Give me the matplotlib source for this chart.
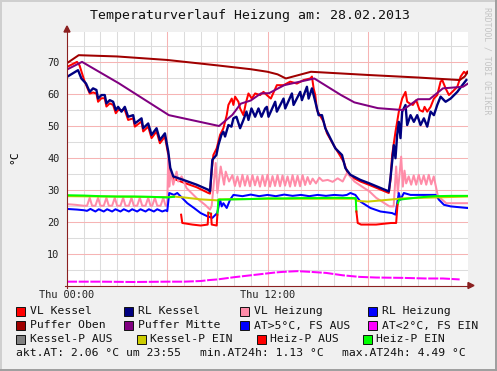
import matplotlib
matplotlib.use('Agg')
import matplotlib.pyplot as plt
from matplotlib.patches import Rectangle, Polygon
from matplotlib.lines import Line2D

nan = float('nan')

# ---------------- data (hours since Thu 00:00, degC) ----------------
puffer_oben_h = [0.0, 0.7, 3.0, 6.0, 9.0, 11.0, 12.0, 12.6, 13.1, 13.6, 14.6, 18.0, 21.0, 23.5, 23.8, 24.0]
puffer_oben_v = [69.7, 72.2, 71.8, 70.7, 69.0, 67.8, 67.0, 66.2, 64.9, 65.6, 67.0, 66.0, 65.2, 64.4, 65.5, 67.0]

puffer_mitte_h = [0.0, 0.9, 3.1, 6.1, 9.1, 9.9, 10.4, 11.0, 11.6, 12.1, 13.0, 14.8, 16.4, 17.2, 18.6, 20.1, 21.0, 21.7, 22.5, 23.7, 24.0]
puffer_mitte_v = [67.7, 70.1, 63.4, 53.4, 50.0, 53.5, 57.0, 58.0, 60.2, 60.3, 62.8, 64.9, 59.7, 57.4, 55.6, 55.0, 58.4, 58.4, 61.8, 62.3, 63.3]

vl_kessel_h = [0.00, 0.60, 0.75, 0.90, 1.06, 1.36, 1.56, 1.76, 1.86, 2.06, 2.26, 2.36, 2.56, 2.76, 2.92, 3.06,
               3.46, 3.66, 3.96, 4.06, 4.46, 4.56, 4.86, 5.06, 5.36, 5.56, 5.86, 6.06, 6.18, 6.36, 6.96, 7.76,
               8.46, 8.56, 8.66, 8.76, 8.96, 9.16, 9.36, 9.56, 9.66, 9.86, 9.96, 10.06, 10.26, 10.36, 10.56,
               10.70, 10.86, 11.06, 11.26, 11.56, 11.76, 12.00, 12.20, 12.56, 12.96, 13.36, 13.76, 14.16,
               14.56, 14.66, 14.76, 14.86, 14.96, 15.36, 15.56, 15.96, 16.56, 16.76, 16.96, 17.56, 18.06,
               19.26, 19.36, 19.46, 19.66, 19.76, 19.86, 19.96, 20.06, 20.26, 20.36, 20.50, 20.70, 20.90,
               21.10, 21.30, 21.40, 21.56, 21.76, 21.96, 22.16, 22.36, 22.46, 22.66, 22.86, 23.06, 23.36,
               23.56, 23.76, 23.86, 23.95]
vl_kessel_v = [68.5, 70.1, 69.0, 66.5, 63.9, 60.2, 60.5, 60.2, 57.6, 58.7, 58.7, 56.1, 57.1, 56.6, 54.0, 55.0,
               55.0, 51.9, 52.4, 49.8, 51.4, 48.3, 49.8, 46.2, 48.3, 44.6, 46.7, 41.0, 36.0, 33.5, 32.3, 30.8,
               29.0, 28.8, 36.0, 40.9, 43.0, 47.2, 49.3, 53.4, 56.6, 58.6, 56.6, 59.2, 57.6, 55.5, 53.4,
               57.1, 60.2, 58.6, 60.2, 59.7, 60.7, 59.5, 58.6, 62.8, 62.8, 63.9, 63.3, 64.4,
               64.9, 65.5, 61.8, 59.7, 55.0, 51.3, 47.7, 44.0, 38.8, 35.7, 34.2, 32.6, 31.6,
               29.0, 33.0, 40.9, 48.2, 51.3, 54.5, 56.6, 58.6, 60.7, 57.6, 57.1, 56.6, 58.1,
               55.0, 54.5, 56.0, 54.5, 56.0, 58.6, 59.7, 63.9, 64.4, 61.8, 59.7, 60.7, 62.3,
               65.5, 67.0, 66.5, 67.0]

rl_kessel_h = [0.00, 0.66, 0.86, 1.14, 1.36, 1.56, 1.76, 1.86, 2.06, 2.26, 2.36, 2.56, 2.76, 2.92, 3.06, 3.26,
               3.46, 3.66, 3.96, 4.06, 4.46, 4.56, 4.86, 5.06, 5.36, 5.56, 5.86, 6.06, 6.18, 6.36, 6.96, 7.76,
               8.46, 8.56, 8.70, 8.94, 9.06, 9.24, 9.36, 9.46, 9.66, 9.84, 9.96, 10.14, 10.36, 10.56, 10.74,
               10.86, 11.04, 11.26, 11.46, 11.64, 11.86, 11.96, 12.06, 12.46, 12.56, 12.96, 13.06, 13.46,
               13.56, 13.96, 14.06, 14.36, 14.46, 14.66, 14.76, 14.96, 15.06, 15.26, 15.46, 15.66, 16.06,
               16.46, 16.66, 16.96, 17.56, 18.06, 19.26, 19.36, 19.46, 19.56, 19.66, 19.76, 19.86, 19.96,
               20.06, 20.26, 20.36, 20.56, 20.76, 20.96, 21.16, 21.36, 21.56, 21.76, 21.96, 22.16, 22.36,
               22.56, 22.66, 22.96, 23.36, 23.66, 23.90]
rl_kessel_v = [65.4, 67.5, 64.9, 63.3, 60.7, 61.8, 61.3, 58.6, 59.7, 59.7, 57.1, 58.1, 57.6, 55.0, 56.0, 54.5,
               56.0, 52.9, 53.4, 50.8, 52.4, 49.3, 50.8, 47.2, 49.3, 45.6, 47.7, 42.0, 36.9, 34.2, 33.1, 31.6,
               30.0, 29.5, 39.4, 40.9, 44.0, 47.2, 48.2, 46.7, 50.3, 49.8, 52.4, 52.9, 49.3, 51.9, 54.5,
               51.9, 55.5, 52.9, 55.5, 52.9, 55.5, 56.0, 52.9, 57.6, 54.5, 58.6, 55.5, 60.2,
               56.6, 60.7, 58.1, 62.3, 58.6, 61.8, 59.7, 55.5, 53.4, 53.4, 49.3, 47.2, 43.0,
               40.9, 36.8, 34.7, 33.1, 32.1, 29.5, 33.7, 38.8, 44.0, 39.9, 47.2, 51.3, 46.2,
               54.5, 56.6, 50.3, 53.4, 51.3, 53.4, 50.3, 52.4, 49.8, 54.5, 53.4, 56.6, 59.2,
               58.1, 57.6, 58.6, 60.7, 62.8, 64.4]

vl_heizung_pts = [
    (0.0, 25.5), (0.5, 25.3), (1.0, 25.0), (1.2, 25.0), (1.36, 27.5), (1.5, 25.0), (1.7, 25.0), (1.86, 27.5),
    (2.0, 25.0), (2.2, 25.0), (2.36, 27.5), (2.5, 25.0), (2.7, 25.0), (2.86, 27.5), (3.0, 25.0), (3.2, 25.0),
    (3.36, 27.5), (3.5, 25.0), (3.7, 25.0), (3.86, 27.5), (4.0, 25.0), (4.2, 25.0), (4.36, 27.5), (4.5, 25.0),
    (4.7, 25.0), (4.86, 27.5), (5.0, 25.0), (5.1, 25.0), (5.26, 27.5), (5.4, 25.0), (5.6, 25.0), (5.76, 27.5),
    (5.9, 25.0), (6.0, 25.0), (6.06, 40.9), (6.12, 31.0), (6.2, 35.7), (6.36, 31.6), (6.56, 35.7), (6.66, 32.6),
    (6.86, 34.2), (7.16, 30.5), (7.76, 27.4), (8.26, 25.3), (8.56, 23.8), (8.66, 25.0), (8.9, 38.4), (9.0, 29.0),
    (9.2, 37.3), (9.4, 31.6), (9.5, 35.7), (9.7, 32.6), (9.9, 34.6), (10.05, 31.2), (10.2, 34.2), (10.35, 31.0),
    (10.5, 34.7), (10.65, 31.3), (10.8, 34.4), (10.95, 31.1), (11.1, 34.6), (11.25, 31.4), (11.4, 34.2),
    (11.55, 31.0), (11.7, 34.5), (11.85, 31.2), (12.0, 34.7), (12.15, 31.0), (12.3, 34.3), (12.45, 31.2),
    (12.6, 34.6), (12.75, 31.1), (12.9, 34.5), (13.05, 31.3), (13.2, 34.2), (13.35, 31.0), (13.5, 34.6),
    (13.65, 31.2), (13.8, 34.4), (13.95, 31.1), (14.1, 34.6), (14.25, 31.5), (14.4, 34.0), (14.55, 31.8),
    (14.7, 33.5), (14.9, 32.0), (15.1, 33.8), (15.3, 32.8), (15.6, 33.1), (15.9, 32.5), (16.2, 33.6),
    (16.5, 32.6), (16.75, 35.2), (16.95, 34.2), (17.2, 32.6), (17.8, 30.5), (18.1, 29.5), (18.5, 27.5),
    (19.0, 25.8), (19.3, 24.8), (19.55, 24.8), (19.7, 37.3), (19.8, 29.0), (20.0, 40.4), (20.1, 31.0),
    (20.2, 36.0), (20.3, 32.0), (20.45, 34.2), (20.6, 31.6), (20.75, 34.5), (20.9, 31.6), (21.05, 34.7),
    (21.2, 31.8), (21.35, 34.5), (21.5, 31.6), (21.65, 34.7), (21.8, 31.7), (21.95, 34.2), (22.2, 28.0),
    (22.7, 25.8), (23.0, 25.8), (23.95, 25.8)]
vl_heizung_h = [p[0] for p in vl_heizung_pts]
vl_heizung_v = [p[1] for p in vl_heizung_pts]

rl_heizung_h = [0.0, 0.6, 1.0, 1.2, 1.4, 1.7, 1.9, 2.2, 2.4, 2.7, 2.9, 3.2, 3.4, 3.7, 3.9, 4.2, 4.4, 4.7, 4.9,
                5.2, 5.4, 5.7, 5.9, 6.0, 6.12, 6.4, 6.6, 6.9, 7.2, 7.6, 8.0, 8.4, 8.7, 8.99, 9.16, 9.26,
                9.36, 9.56, 9.76, 9.96, 10.5, 11.0, 11.5, 12.0, 12.5, 13.0, 13.5, 14.0, 14.5, 15.0, 15.5,
                16.0, 16.5, 16.75, 16.96, 17.26, 17.56, 18.16, 18.76, 19.46, 19.66, 19.76, 19.86, 19.96,
                20.16, 20.56, 22.06, 22.26, 22.56, 22.96, 23.95]
rl_heizung_v = [24.0, 23.8, 23.6, 23.4, 24.0, 23.2, 23.9, 23.2, 23.9, 23.2, 23.9, 23.2, 23.9, 23.2, 23.9, 23.2,
                23.9, 23.2, 23.9, 23.2, 23.9, 23.2, 23.6, 23.3, 29.0, 28.4, 29.0, 27.4, 25.8, 24.3, 22.7,
                21.7, 21.2, 22.7, 26.9, 24.8, 25.8, 24.3, 26.9, 28.4, 28.0, 28.5, 28.0, 28.4, 28.0, 28.5,
                28.1, 28.4, 28.0, 28.4, 28.1, 28.4, 28.2, 28.4, 29.0, 28.4, 26.3, 24.3, 23.2, 22.7, 22.2,
                25.8, 29.0, 26.9, 29.0, 28.4, 28.4, 26.9, 25.3, 24.8, 24.3]

kessel_p_ein_h = [0.0, 6.0, 6.36, 7.0, 8.0, 9.0, 9.1, 12.0, 17.2, 17.4, 18.0, 19.7, 20.0, 24.0]
kessel_p_ein_v = [28.0, 27.7, 27.9, 27.6, 27.0, 26.7, 27.0, 27.2, 27.2, 26.5, 26.3, 27.1, 27.3, 27.9]

heiz_p_ein_h = [0.0, 1.0, 2.0, 3.0, 4.0, 5.0, 6.0, 6.4, nan, 8.46, 8.62, nan, 9.0, 9.06, 10.0, 11.0, 12.0,
                13.0, 14.0, 15.0, 16.0, 17.28, 17.32, nan, 19.78, 19.88, 21.0, 22.0, 23.0, 23.95]
heiz_p_ein_v = [28.3, 28.2, 28.0, 27.9, 27.9, 27.8, 27.6, 27.8, nan, 22.8, 22.5, nan, 22.2, 26.9, 27.0, 27.1,
                27.3, 27.3, 27.4, 27.4, 27.5, 27.4, 23.2, nan, 25.3, 26.9, 27.6, 28.0, 28.1, 28.1]

heiz_p_aus_h = [6.83, 6.9, 7.5, 8.0, 8.42, 8.46, nan, 8.62, 8.66, 8.96, 9.0, nan,
                17.32, 17.4, 17.6, 18.5, 19.4, 19.7, 19.78]
heiz_p_aus_v = [22.2, 19.6, 19.1, 18.8, 19.1, 22.8, nan, 22.5, 19.1, 18.8, 22.2, nan,
                23.2, 19.6, 19.1, 19.1, 19.6, 19.6, 25.3]

aussen_h = [0.0, 2.0, 4.0, 6.0, 7.0, 8.0, 8.5, 9.0, 10.0, 11.0, 11.5, 12.0, 12.5, 13.0, 13.8, 14.5, 15.5,
            16.5, 17.5, 18.5, 20.0, 21.5, 22.5, 23.5]
aussen_v = [1.2, 1.2, 1.1, 1.2, 1.2, 1.4, 1.7, 1.9, 2.6, 3.2, 3.5, 3.8, 4.1, 4.3, 4.5, 4.3, 3.95,
            3.2, 2.7, 2.5, 2.4, 2.2, 2.2, 1.9]

y_ticks = [10, 20, 30, 40, 50, 60, 70]
x_ticks = [0, 12]
x_tick_labels = ['Thu 00:00', 'Thu 12:00']

title = 'Temperaturverlauf Heizung am: 28.02.2013'
legend_rows = [
    [('VL Kessel', '#FF0000'), ('RL Kessel', '#000080'), ('VL Heizung', '#FF8CA8'), ('RL Heizung', '#0000FF')],
    [('Puffer Oben', '#A00000'), ('Puffer Mitte', '#800080'), ('AT>5°C, FS AUS', '#0000FF'), ('AT<2°C, FS EIN', '#FF00FF')],
    [('Kessel-P AUS', '#808080'), ('Kessel-P EIN', '#CCCC00'), ('Heiz-P AUS', '#FF0000'), ('Heiz-P EIN', '#00FF00')],
]
info_texts = ['akt.AT: 2.06 °C um 23:55', 'min.AT24h: 1.13 °C', 'max.AT24h: 4.49 °C']

# ---------------- layout ----------------
W, H = 497, 371
MONO = 'DejaVu Sans Mono'
fig = plt.figure(figsize=(W / 100, H / 100), dpi=100, facecolor='#F0F0F0')

def fx(x):
    return x / W

def fy(y):
    return 1 - y / H

L, R, T, B = 67, 468, 32, 285.5
PXU = 3.19
ax = fig.add_axes([fx(L), fy(B), (R - L) / W, (B - T) / H])
ax.set_facecolor('white')
ax.set_xlim(0, 24)
ax.set_ylim(0, (B - T) / PXU)
for s in ax.spines.values():
    s.set_visible(False)

# grid
for hh in range(1, 24):
    major = hh % 6 == 0
    ax.axvline(hh, color='#F6B4B4' if major else '#DCDCDC', lw=0.75, zorder=1 if major else 0.5)
for yy in range(5, 80, 5):
    major = yy % 10 == 0
    ax.axhline(yy, color='#F6B4B4' if major else '#DCDCDC', lw=0.75, zorder=1 if major else 0.5)

ax.set_yticks(y_ticks)
ax.set_yticklabels([str(v) for v in y_ticks], fontfamily=MONO, fontsize=7.4, color='#222222')
ax.set_xticks(x_ticks)
ax.set_xticklabels(x_tick_labels, fontfamily=MONO, fontsize=7.4, color='#222222')
ax.tick_params(axis='y', length=0, pad=5.5)
ax.tick_params(axis='x', length=0, pad=3.0)

lw = 1.45
ax.plot(vl_kessel_h, vl_kessel_v, color='#FF0000', lw=lw, zorder=3)
ax.plot(rl_kessel_h, rl_kessel_v, color='#000080', lw=1.7, zorder=4)
ax.plot(vl_heizung_h, vl_heizung_v, color='#FF8CA8', lw=lw, zorder=3.5)
ax.plot(rl_heizung_h, rl_heizung_v, color='#0000FF', lw=lw, zorder=3.6)
ax.plot(puffer_oben_h, puffer_oben_v, color='#A00000', lw=lw, zorder=4.5)
ax.plot(puffer_mitte_h, puffer_mitte_v, color='#800080', lw=lw, zorder=4.5)
ax.plot(kessel_p_ein_h, kessel_p_ein_v, color='#CCCC00', lw=lw, zorder=3.7)
ax.plot(heiz_p_ein_h, heiz_p_ein_v, color='#00FF00', lw=lw, zorder=3.8)
ax.plot(heiz_p_aus_h, heiz_p_aus_v, color='#FF0000', lw=lw, zorder=3.8)
ax.plot(aussen_h, aussen_v, color='#FF00FF', lw=lw, zorder=3.8, dashes=(5, 0.8))

# axes lines with arrows (figure pixel coordinates)
axc = '#8B2020'
fig.add_artist(Line2D([fx(L - 2), fx(470)], [fy(B), fy(B)], color=axc, lw=0.8))
fig.add_artist(Line2D([fx(L), fx(L)], [fy(B + 2), fy(30)], color=axc, lw=0.8))
fig.add_artist(Polygon([[fx(468), fy(B - 3)], [fx(474), fy(B)], [fx(468), fy(B + 3)]],
                       closed=True, color=axc, transform=fig.transFigure))
fig.add_artist(Polygon([[fx(L - 3), fy(32)], [fx(L), fy(26)], [fx(L + 3), fy(32)]],
                       closed=True, color=axc, transform=fig.transFigure))

# title / labels
fig.text(fx(249.5), fy(16), title, fontfamily=MONO, fontsize=9.5, ha='center', va='center', color='#111111')
fig.text(fx(14), fy(157), '°C', fontfamily=MONO, fontsize=8.2, ha='center', va='center', rotation=90)
fig.text(fx(487), fy(61), 'RRDTOOL / TOBI OETIKER', fontfamily=MONO, fontsize=5.9, ha='center', va='center',
         rotation=270, color='#C4C4C4')

# legend
row_y = [311.5, 325.5, 339.5]
sw_x = [[16, 124, 240, 368], [16, 124, 240, 368], [16, 136.5, 256.5, 362.5]]
for r, row in enumerate(legend_rows):
    for c, (lab, col) in enumerate(row):
        x0 = sw_x[r][c]
        y0 = row_y[r]
        fig.add_artist(Rectangle((fx(x0), fy(y0 + 4.2)), 9 / W, 8.4 / H, transform=fig.transFigure,
                                 facecolor=col, edgecolor='#111111', lw=0.7))
        fig.text(fx(x0 + 14), fy(y0), lab, fontfamily=MONO, fontsize=8.2, ha='left', va='center', color='#111111')
for txt, x0 in zip(info_texts, [16.5, 200, 342.5]):
    fig.text(fx(x0), fy(353), txt, fontfamily=MONO, fontsize=8.2, ha='left', va='center', color='#111111')

# frame
fig.add_artist(Line2D([0, 1], [fy(0.5), fy(0.5)], color='#CFCFCF', lw=1.4))
fig.add_artist(Line2D([fx(0.5), fx(0.5)], [0, 1], color='#CFCFCF', lw=1.4))
fig.add_artist(Line2D([0, 1], [fy(370.3), fy(370.3)], color='#9E9E9E', lw=1.4))
fig.add_artist(Line2D([fx(496.3), fx(496.3)], [0, 1], color='#9E9E9E', lw=1.4))

fig.savefig('out.png', dpi=100, facecolor=fig.get_facecolor())
